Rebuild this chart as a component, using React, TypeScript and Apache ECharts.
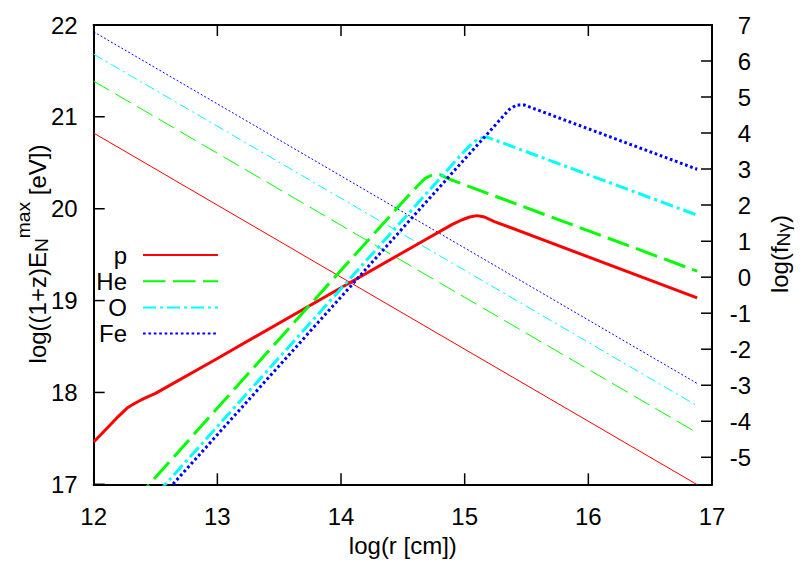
import React, { useEffect, useRef } from 'react';
import * as echarts from 'echarts';

const FONT = 'Liberation Sans';

// axes
const X_MIN = 12;
const X_MAX = 17;
const X_TICKS = [12, 13, 14, 15, 16, 17];
const LEFT_MIN = 17;
const LEFT_MAX = 22;
const LEFT_TICKS = [17, 18, 19, 20, 21, 22];
const RIGHT_MIN = -5.75;
const RIGHT_MAX = 7;
const RIGHT_TICKS = [-5, -4, -3, -2, -1, 0, 1, 2, 3, 4, 5, 6, 7];

const SPECIES = ['p', 'He', 'O', 'Fe'];
const COLORS = ['#ff0000', '#00ff00', '#00ffff', '#0000ff'];

// log((1+z) E_N^max) [eV] vs log(r [cm])  (left axis, thick lines)
const E_P = [
  [12.0, 17.46], [12.1, 17.6], [12.2, 17.74], [12.27, 17.83], [12.33, 17.88],
  [12.4, 17.93], [12.5, 17.99], [13.0, 18.37], [14.0, 19.14], [14.6, 19.6],
  [14.9, 19.83], [14.98, 19.88], [15.04, 19.91], [15.1, 19.925], [15.16, 19.91],
  [15.24, 19.86], [16.88, 19.03],
];
const E_HE = [
  [12.0, 16.33], [12.45, 17.0], [13.0, 17.83], [14.0, 19.33], [14.55, 20.15],
  [14.62, 20.25], [14.68, 20.33], [14.74, 20.37], [14.8, 20.37], [14.88, 20.32],
  [16.88, 19.32],
];
const E_O = [
  [12.0, 16.13], [12.58, 17.0], [13.0, 17.63], [14.0, 19.13], [15.0, 20.63],
  [15.06, 20.71], [15.12, 20.77], [15.18, 20.78], [15.26, 20.74], [16.88, 19.93],
];
const E_FE = [
  [12.0, 16.04], [12.64, 17.0], [13.0, 17.54], [14.0, 19.04], [15.0, 20.54],
  [15.3, 20.99], [15.36, 21.08], [15.42, 21.13], [15.48, 21.13], [15.56, 21.09],
  [16.88, 20.43],
];

// log(f_Nγ) vs log(r [cm])  (right axis, thin lines)
const F_P = [[12.0, 4.0], [16.88, -5.76]];
const F_HE = [[12.0, 5.44], [16.88, -4.32]];
const F_O = [[12.0, 6.19], [16.88, -3.57]];
const F_FE = [[12.0, 6.81], [16.88, -2.95]];

const E_DATA = [E_P, E_HE, E_O, E_FE];
const F_DATA = [F_P, F_HE, F_O, F_FE];

const THICK_DASH: any[] = ['solid', [22.5, 7.5], [13, 4, 3, 4], [2.7, 2.7]];
const THIN_DASH: any[] = ['solid', [18, 7], [10, 4, 2, 4], [2, 2]];

const TICK_LEN = 11;

// grid box (px)
const GRID = { left: 93.7, right: 94, top: 25, bottom: 78.7 };
const PLOT_W = 806 - GRID.left - GRID.right;
const PLOT_H = 563 - GRID.top - GRID.bottom;

function textWidth(text: string, size: number): number {
  const ctx = document.createElement('canvas').getContext('2d');
  if (!ctx) return text.length * size * 0.55;
  ctx.font = `${size}px "${FONT}"`;
  return ctx.measureText(text).width;
}

type Piece = { text: string; size: number; dy: number };

function verticalTitle(pieces: Piece[], cx: number, cy: number) {
  let x = 0;
  const children = pieces.map((p) => {
    const el = {
      type: 'text',
      x,
      y: p.dy,
      style: {
        text: p.text,
        fontSize: p.size,
        fontFamily: FONT,
        fill: '#000',
        align: 'left',
        verticalAlign: 'middle',
      },
    };
    x += textWidth(p.text, p.size);
    return el;
  });
  return { type: 'group', x: cx, y: cy + x / 2, rotation: Math.PI / 2, children };
}

// one short two-point segment per tick mark, in axis units
function tickSeg(id: string, yAxisIndex: number, a: number[], b: number[]) {
  return {
    name: id,
    type: 'line',
    xAxisIndex: 0,
    yAxisIndex,
    data: [a, b],
    symbol: 'none',
    showSymbol: false,
    silent: true,
    lineStyle: { color: '#000000', width: 1.5, type: 'solid' },
    itemStyle: { color: '#000000' },
    z: 5,
  };
}

const lineOn = { show: true, onZero: false, lineStyle: { color: '#000', width: 2 } };

export default function App() {
  const ref = useRef<HTMLDivElement>(null);

  useEffect(() => {
    if (!ref.current) return;
    const chart = echarts.init(ref.current, null, { renderer: 'svg' });

    const series: any[] = [];
    SPECIES.forEach((name, i) => {
      series.push({
        name: name + ' f',
        type: 'line',
        xAxisIndex: 0,
        yAxisIndex: 1,
        data: F_DATA[i],
        symbol: 'none',
        showSymbol: false,
        lineStyle: { color: COLORS[i], width: 1, type: THIN_DASH[i] },
        itemStyle: { color: COLORS[i] },
        z: 2,
      });
    });
    SPECIES.forEach((name, i) => {
      series.push({
        name,
        type: 'line',
        xAxisIndex: 0,
        yAxisIndex: 0,
        data: E_DATA[i],
        symbol: 'none',
        showSymbol: false,
        lineStyle: { color: COLORS[i], width: 3, type: THICK_DASH[i] },
        itemStyle: { color: COLORS[i] },
        z: 3,
      });
    });

    // tick lengths in axis units
    const dx = (TICK_LEN * (X_MAX - X_MIN)) / PLOT_W;
    const dyL = (TICK_LEN * (LEFT_MAX - LEFT_MIN)) / PLOT_H;

    X_TICKS.forEach((v, i) => {
      series.push(tickSeg('tb' + i, 0, [v, LEFT_MIN], [v, LEFT_MIN + dyL]));
      series.push(tickSeg('tt' + i, 0, [v, LEFT_MAX], [v, LEFT_MAX - dyL]));
    });
    LEFT_TICKS.forEach((v, i) => {
      series.push(tickSeg('tl' + i, 0, [X_MIN, v], [X_MIN + dx, v]));
    });
    RIGHT_TICKS.forEach((v, i) => {
      series.push(tickSeg('tr' + i, 1, [X_MAX, v], [X_MAX - dx, v]));
    });

    const legendTextW = Math.max(...SPECIES.map((s) => textWidth(s, 24)));
    const iconLeft = 143;
    const textPad = 11;

    const option: any = {
      animation: false,
      backgroundColor: '#fff',
      textStyle: { fontFamily: FONT },
      grid: { ...GRID, show: false },
      legend: {
        data: SPECIES,
        orient: 'vertical',
        align: 'right',
        left: iconLeft - 5 - textPad - legendTextW,
        top: 243,
        padding: 0,
        itemWidth: 75,
        itemHeight: 24,
        itemGap: 2.2,
        selectedMode: false,
        textStyle: { fontSize: 24, fontFamily: FONT, color: '#000', padding: [0, textPad, 0, 0] },
        itemStyle: { color: 'transparent', borderWidth: 0, borderColor: 'transparent' },
      },
      xAxis: [
        {
          type: 'value',
          min: X_MIN,
          max: X_MAX,
          interval: 1,
          position: 'bottom',
          name: 'log(r [cm])',
          nameLocation: 'middle',
          nameGap: 38,
          nameTextStyle: { fontSize: 24, fontFamily: FONT, color: '#000' },
          axisLine: lineOn,
          axisTick: { show: false },
          axisLabel: { fontSize: 24, fontFamily: FONT, color: '#000', margin: 20 },
          splitLine: { show: false },
        },
        {
          type: 'value',
          min: X_MIN,
          max: X_MAX,
          interval: 1,
          position: 'top',
          axisLine: lineOn,
          axisTick: { show: false },
          axisLabel: { show: false },
          splitLine: { show: false },
        },
      ],
      yAxis: [
        {
          type: 'value',
          min: LEFT_MIN,
          max: LEFT_MAX,
          interval: 1,
          position: 'left',
          axisLine: lineOn,
          axisTick: { show: false },
          axisLabel: { fontSize: 24, fontFamily: FONT, color: '#000', margin: 16 },
          splitLine: { show: false },
        },
        {
          type: 'value',
          min: RIGHT_MIN,
          max: RIGHT_MAX,
          position: 'right',
          axisLine: lineOn,
          axisTick: { show: false },
          axisLabel: {
            fontSize: 24,
            fontFamily: FONT,
            color: '#000',
            margin: 39,
            align: 'right',
            customValues: RIGHT_TICKS,
          },
          splitLine: { show: false },
        },
      ],
      graphic: [
        verticalTitle(
          [
            { text: 'log((1+z)E', size: 24, dy: 0 },
            { text: 'N', size: 19.2, dy: 4.35 },
            { text: 'max', size: 19.2, dy: -14.05 },
            { text: ' [eV])', size: 24, dy: 0 },
          ],
          37.4,
          254
        ),
        verticalTitle(
          [
            { text: 'log(f', size: 24, dy: 0 },
            { text: 'Nγ', size: 19.2, dy: 4.35 },
            { text: ')', size: 24, dy: 0 },
          ],
          779,
          254
        ),
      ],
      series,
    };

    chart.setOption(option);
    return () => chart.dispose();
  }, []);

  return (
    <div
      ref={ref}
      style={{ position: 'fixed', left: 0, top: 0, width: 806, height: 563, background: '#fff' }}
    />
  );
}
